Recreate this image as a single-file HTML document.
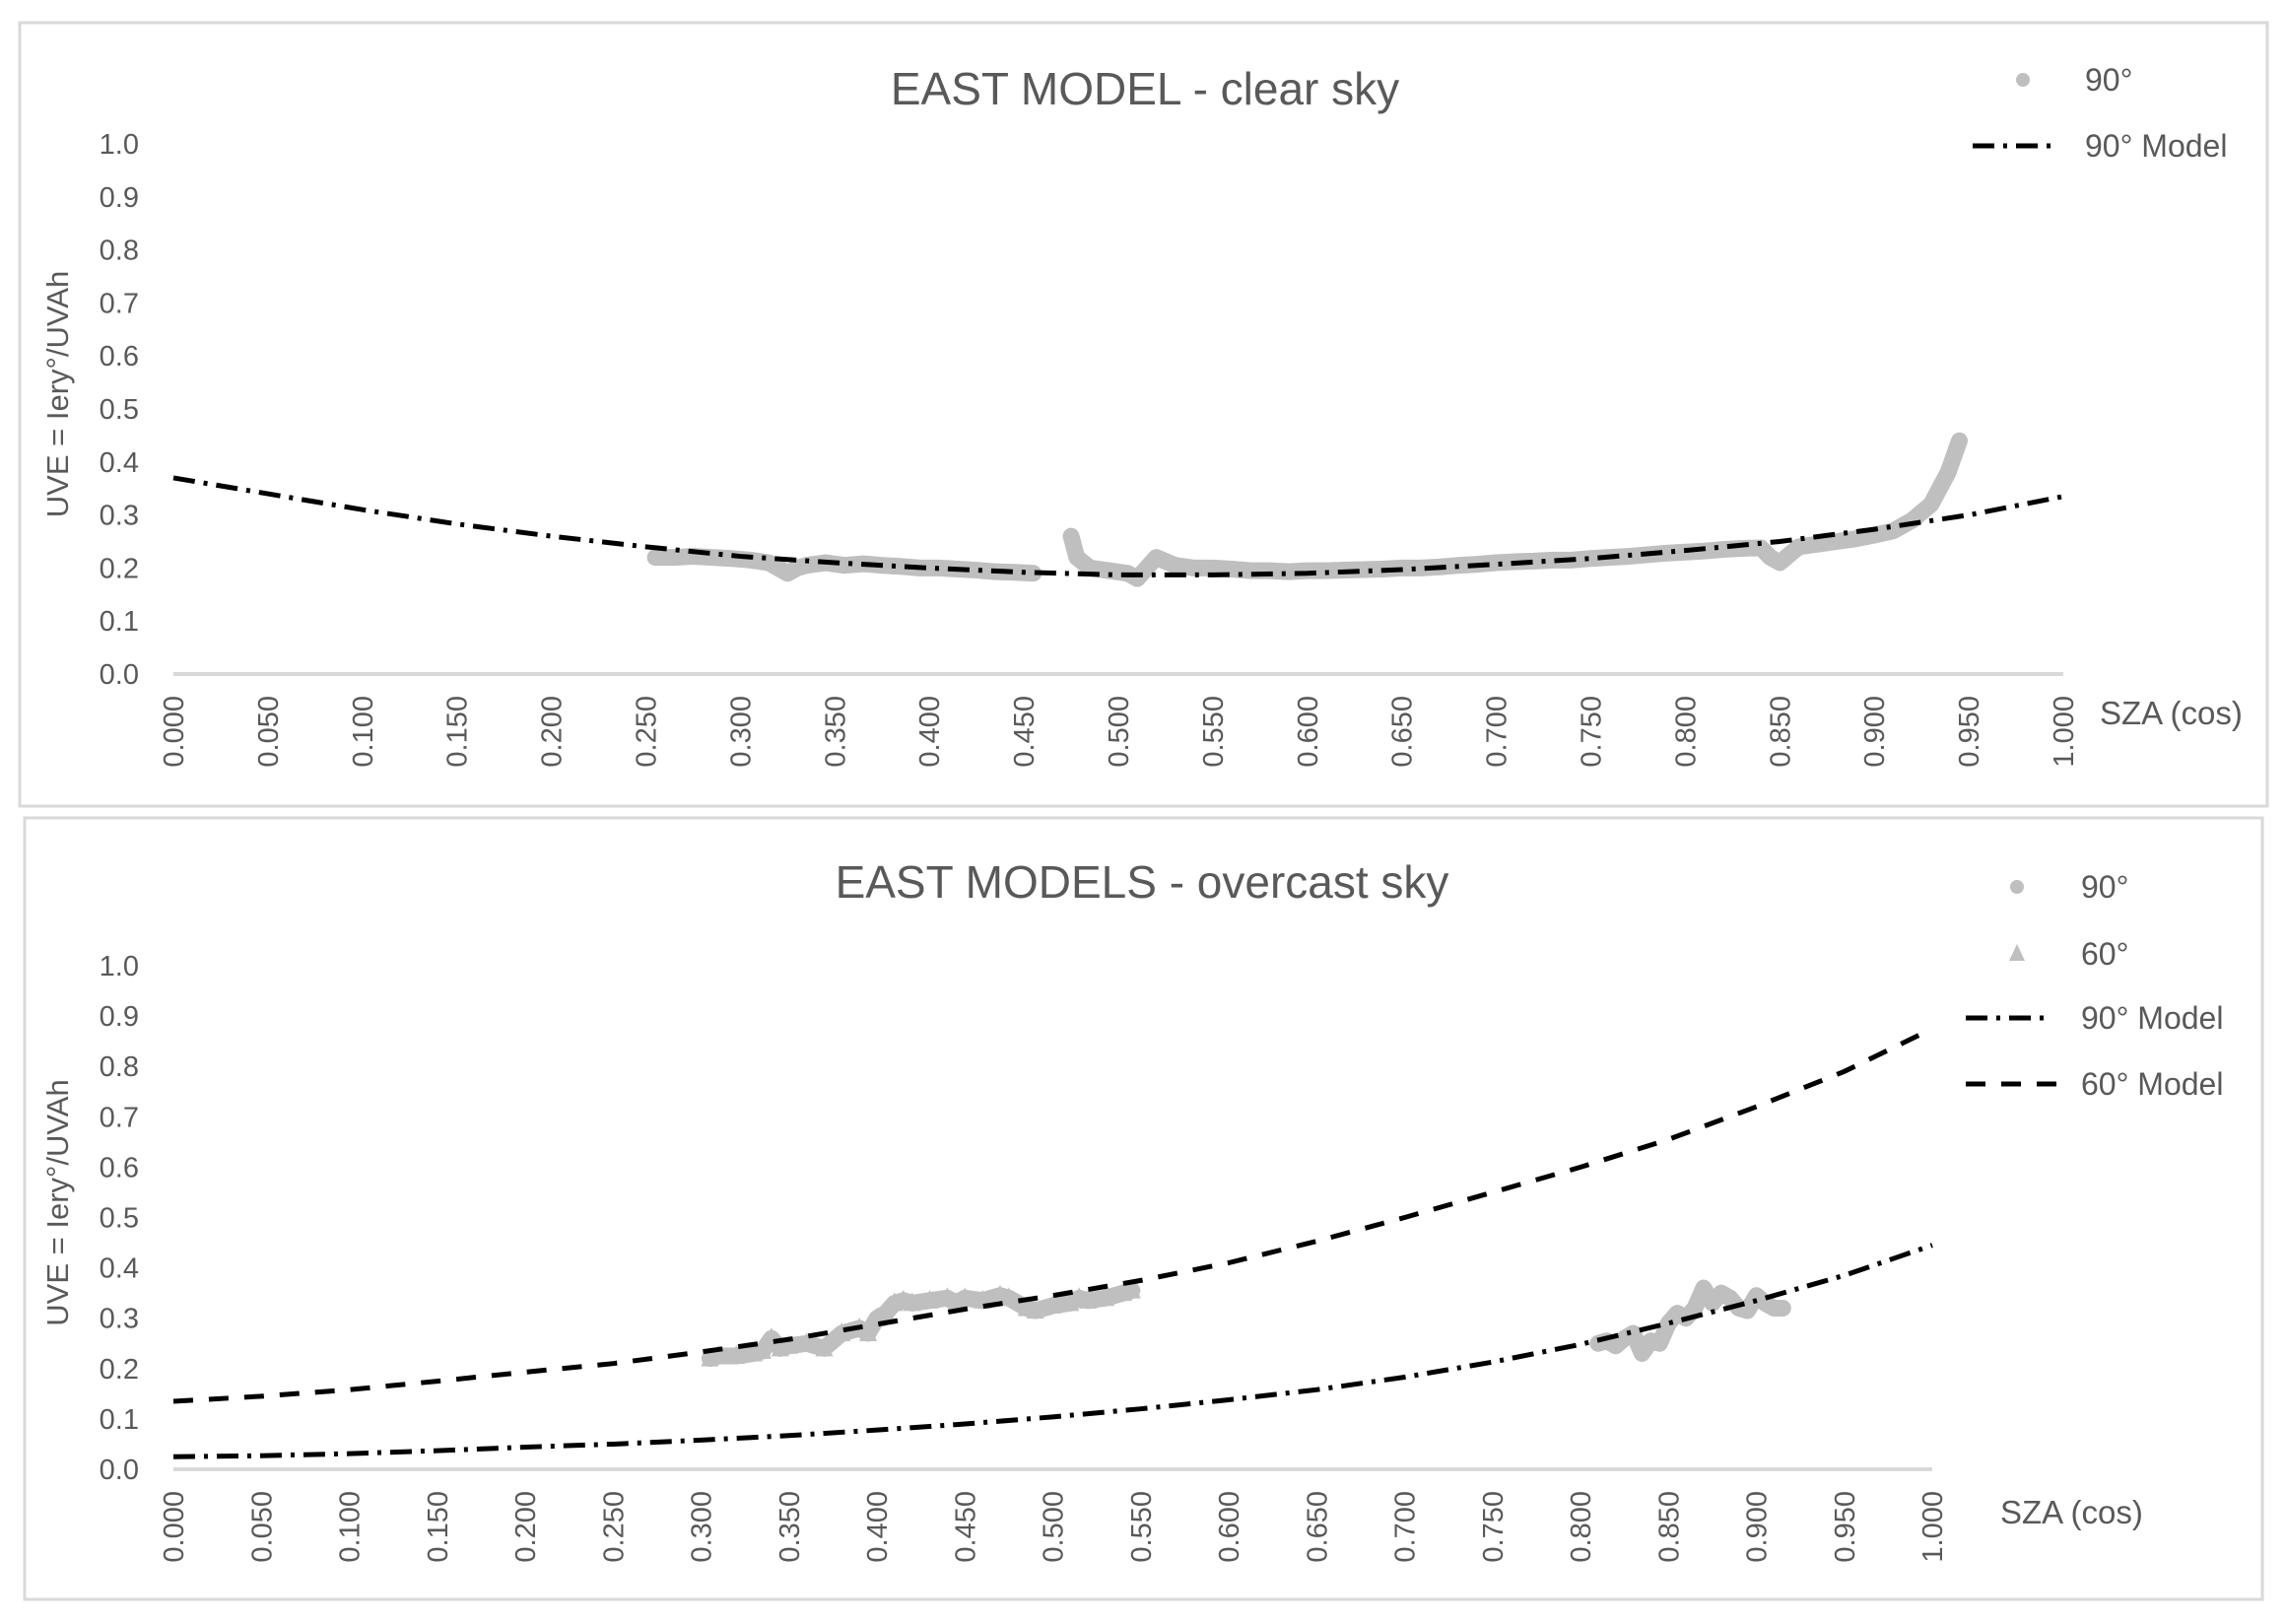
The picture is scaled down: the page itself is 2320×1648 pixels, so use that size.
<!DOCTYPE html>
<html><head><meta charset="utf-8"><style>
html,body{margin:0;padding:0;background:#fff;}
svg{display:block;font-family:"Liberation Sans",sans-serif;}
</style></head><body>
<svg id="root" width="2320" height="1648" viewBox="0 0 2320 1648">
<rect x="20" y="23" width="2281" height="795" fill="#fff" stroke="#d9d9d9" stroke-width="3"/>
<rect x="25" y="830" width="2271" height="793" fill="#fff" stroke="#d9d9d9" stroke-width="3"/>
<g id="c1"></g>
<g id="c2"></g>
</svg>
<script>
// ---- Chart 1: clear sky ----
const xTicks = [0,0.05,0.1,0.15,0.2,0.25,0.3,0.35,0.4,0.45,0.5,0.55,0.6,0.65,0.7,0.75,0.8,0.85,0.9,0.95,1.0];
const xTickLabels = ["0.000","0.050","0.100","0.150","0.200","0.250","0.300","0.350","0.400","0.450","0.500","0.550","0.600","0.650","0.700","0.750","0.800","0.850","0.900","0.950","1.000"];
const yTicks = [0,0.1,0.2,0.3,0.4,0.5,0.6,0.7,0.8,0.9,1.0];
const yTickLabels = ["0.0","0.1","0.2","0.3","0.4","0.5","0.6","0.7","0.8","0.9","1.0"];
const clearModelX = [0,0.05,0.1,0.15,0.2,0.25,0.3,0.35,0.4,0.45,0.5,0.55,0.6,0.65,0.7,0.75,0.8,0.85,0.9,0.95,1.0];
const clearModelY = [0.37,0.34,0.31,0.283,0.26,0.24,0.222,0.21,0.2,0.192,0.187,0.187,0.19,0.197,0.207,0.218,0.233,0.25,0.273,0.3,0.335];
const clearObsX = [0.255,0.265,0.275,0.285,0.295,0.305,0.315,0.32,0.325,0.33,0.335,0.345,0.355,0.365,0.375,0.385,0.395,0.405,0.415,0.425,0.435,0.445,0.455,
 0.475,0.478,0.485,0.495,0.505,0.51,0.515,0.52,0.53,0.54,0.55,0.56,0.57,0.58,0.59,0.6,0.61,0.62,0.63,0.64,0.65,0.66,0.67,0.68,0.69,0.7,0.71,0.72,0.73,0.74,0.75,0.76,0.77,0.78,0.79,0.8,0.81,0.82,0.83,0.84,0.845,0.85,0.86,0.87,0.88,0.89,0.9,0.91,0.915,0.92,0.925,0.93,0.933,0.936,0.939,0.941,0.943,0.945];
const clearObsY = [0.22,0.22,0.222,0.22,0.218,0.215,0.21,0.2,0.19,0.2,0.205,0.21,0.205,0.208,0.205,0.203,0.2,0.2,0.198,0.196,0.193,0.192,0.19,
 0.26,0.22,0.2,0.195,0.19,0.18,0.2,0.22,0.205,0.2,0.2,0.198,0.195,0.195,0.193,0.195,0.195,0.196,0.197,0.198,0.2,0.2,0.202,0.205,0.207,0.21,0.212,0.213,0.215,0.215,0.218,0.22,0.222,0.225,0.228,0.23,0.232,0.235,0.237,0.238,0.22,0.21,0.24,0.245,0.25,0.255,0.262,0.27,0.28,0.29,0.305,0.32,0.34,0.36,0.38,0.4,0.42,0.44];
// ---- Chart 2: overcast sky ----
const ovModelX = [0,0.05,0.1,0.15,0.2,0.25,0.3,0.35,0.4,0.45,0.5,0.55,0.6,0.65,0.7,0.75,0.8,0.85,0.9,0.95,1.0];
const ov60ModelY = [0.135,0.145,0.158,0.175,0.193,0.21,0.233,0.258,0.288,0.318,0.345,0.375,0.41,0.453,0.5,0.55,0.6,0.655,0.72,0.79,0.875];
const ov90ModelY = [0.025,0.027,0.031,0.037,0.044,0.05,0.058,0.067,0.078,0.09,0.104,0.12,0.138,0.158,0.183,0.213,0.248,0.29,0.335,0.385,0.445];
const ov60ObsX = [0.305,0.31,0.32,0.33,0.335,0.34,0.345,0.35,0.36,0.37,0.38,0.39,0.395,0.4,0.405,0.41,0.415,0.42,0.43,0.44,0.445,0.45,0.46,0.47,0.475,0.485,0.49,0.5,0.51,0.515,0.52,0.53,0.54,0.545];
const ov60ObsY = [0.22,0.225,0.225,0.23,0.235,0.26,0.24,0.245,0.25,0.24,0.27,0.28,0.27,0.3,0.31,0.33,0.335,0.33,0.335,0.34,0.33,0.34,0.335,0.345,0.34,0.32,0.315,0.325,0.33,0.34,0.335,0.34,0.35,0.355];
const ov90ObsX = [0.81,0.815,0.82,0.825,0.83,0.835,0.84,0.845,0.85,0.855,0.86,0.865,0.87,0.875,0.88,0.885,0.89,0.895,0.9,0.905,0.91,0.915];
const ov90ObsY = [0.25,0.255,0.245,0.26,0.27,0.23,0.255,0.25,0.29,0.31,0.3,0.32,0.36,0.33,0.35,0.34,0.32,0.315,0.345,0.33,0.32,0.32];

const NS="http://www.w3.org/2000/svg";
function mk(parent,tag,attrs){const e=document.createElementNS(NS,tag);for(const k in attrs)e.setAttribute(k,attrs[k]);parent.appendChild(e);return e;}
const GREY="#bfbfbf", TXT="#595959";

function drawAxes(g,x0,x1,y0,y1,title,titleX,titleY,szaX,szaY){
  const sx=v=>x0+(x1-x0)*v, sy=v=>y0+(y1-y0)*v;
  const t=mk(g,'text',{x:titleX,y:titleY,'text-anchor':'middle','font-size':46,fill:TXT});
  t.textContent=title;
  
  
  const ax=mk(g,'line',{x1:x0,y1:y0,x2:x1,y2:y0,stroke:'#d9d9d9','stroke-width':4});
  
  
  yTicks.forEach((v,i)=>{
    const l=mk(g,'text',{x:141,y:sy(v)+10,'text-anchor':'end','font-size':29,fill:TXT});
    l.textContent=yTickLabels[i];
    
    
  });
  xTicks.forEach((v,i)=>{
    const l=mk(g,'text',{x:0,y:0,'text-anchor':'end','font-size':29,fill:TXT,transform:`translate(${sx(v)+10},${y0+22}) rotate(-90)`});
    l.textContent=xTickLabels[i];
    
    
  });
  const yt=mk(g,'text',{x:0,y:0,'text-anchor':'middle','font-size':31,fill:TXT,transform:`translate(69,${(y0+y1)/2-15}) rotate(-90)`});
  yt.textContent="UVE = Iery°/UVAh";
  
  
  const xt=mk(g,'text',{x:szaX,y:szaY,'font-size':33,fill:TXT});
  xt.textContent="SZA (cos)";
  
  
  return [sx,sy];
}
function line(g,xs,ys,sx,sy,dash,name){
  const p=mk(g,'polyline',{points:xs.map((x,i)=>sx(x)+','+sy(ys[i])).join(' '),fill:'none',stroke:'#000','stroke-width':5,'stroke-dasharray':dash});
  
  
}
function band(g,xs,ys,sx,sy,breakAt){
  let segs=[[]];
  xs.forEach((x,i)=>{ if(i>0 && x-xs[i-1]>breakAt) segs.push([]); segs[segs.length-1].push(sx(x)+','+sy(ys[i])); });
  segs.forEach(s=>{
    const p=mk(g,'polyline',{points:s.join(' '),fill:'none',stroke:GREY,'stroke-width':17,'stroke-linejoin':'round','stroke-linecap':'round'});
    
    
  });
}
function dots(g,xs,ys,sx,sy,name){
  xs.forEach((x,i)=>{
    const c=mk(g,'circle',{cx:sx(x),cy:sy(ys[i]),r:8,fill:GREY});
    
    
  });
}
function tris(g,xs,ys,sx,sy,name){
  xs.forEach((x,i)=>{
    const cx=sx(x),cy=sy(ys[i]);
    const t=mk(g,'polygon',{points:`${cx},${cy-11} ${cx-9},${cy+8} ${cx+9},${cy+8}`,fill:GREY});
    
    
  });
}
function legText(g,x,y,txt){
  const t=mk(g,'text',{x:x,y:y+11,'font-size':32,fill:TXT});
  t.textContent=txt;
  
  
}
const DASHDOT='22 9 4 9', DASH='20 16';

// chart 1
(function(){
  const g=document.getElementById('c1');
  const [sx,sy]=drawAxes(g,176,2094,684,146,"EAST MODEL - clear sky",1162,106,2131,735);
  band(g,clearObsX,clearObsY,sx,sy,0.015);
  dots(g,clearObsX,clearObsY,sx,sy,'observed-90-point');
  line(g,clearModelX,clearModelY,sx,sy,DASHDOT,'model-90-line');
  const m=mk(g,'circle',{cx:2053,cy:81,r:7,fill:GREY});
  
  
  legText(g,2116,81,"90°");
  const l=mk(g,'line',{x1:2002,y1:148,x2:2090,y2:148,stroke:'#000','stroke-width':5,'stroke-dasharray':DASHDOT});
  
  
  legText(g,2116,148,"90° Model");
})();
// chart 2
(function(){
  const g=document.getElementById('c2');
  const [sx,sy]=drawAxes(g,176,1961,1491,980,"EAST MODELS - overcast sky",1159,911,2030,1546);
  band(g,ov60ObsX,ov60ObsY,sx,sy,0.03);
  tris(g,ov60ObsX,ov60ObsY,sx,sy,'observed-60-point');
  band(g,ov90ObsX,ov90ObsY,sx,sy,0.03);
  dots(g,ov90ObsX,ov90ObsY,sx,sy,'observed-90-point');
  line(g,ovModelX,ov60ModelY,sx,sy,DASH,'model-60-line');
  line(g,ovModelX,ov90ModelY,sx,sy,DASHDOT,'model-90-line');
  const m=mk(g,'circle',{cx:2047,cy:900,r:7,fill:GREY});
  
  
  legText(g,2112,900,"90°");
  const t=mk(g,'polygon',{points:'2047,958 2039,975 2055,975',fill:GREY});
  
  
  legText(g,2112,968,"60°");
  const l1=mk(g,'line',{x1:1995,y1:1033,x2:2082,y2:1033,stroke:'#000','stroke-width':5,'stroke-dasharray':DASHDOT});
  
  
  legText(g,2112,1033,"90° Model");
  const l2=mk(g,'line',{x1:1995,y1:1100,x2:2097,y2:1100,stroke:'#000','stroke-width':5,'stroke-dasharray':DASH});
  
  
  legText(g,2112,1100,"60° Model");
})();
</script>
</body></html>
